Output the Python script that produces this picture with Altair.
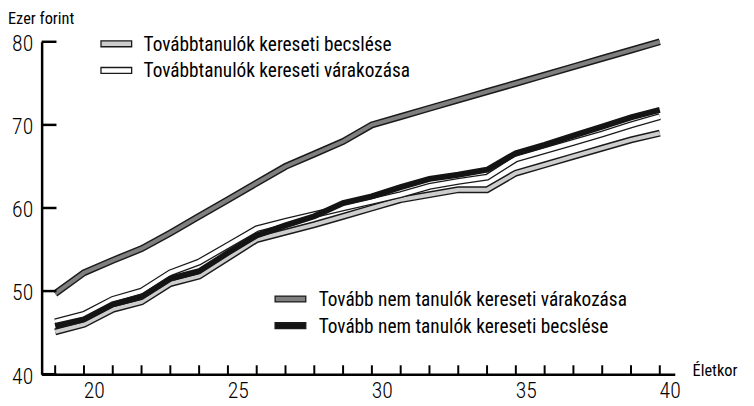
import altair as alt
import pandas as pd

# ---- data ----
ages = list(range(19, 41))
tov_becsles = [45.1, 46.0, 47.8, 48.7, 50.9, 51.8, 54.0, 56.2, 57.1, 58.0, 59.0, 60.0, 61.0, 61.6, 62.2, 62.2, 64.2, 65.2, 66.2, 67.2, 68.2, 69.0]
tov_varakozas = [46.3, 47.2, 49.0, 50.0, 52.2, 53.5, 55.5, 57.5, 58.4, 59.2, 60.0, 60.8, 61.6, 62.6, 63.2, 63.7, 65.9, 66.9, 67.9, 68.9, 70.0, 71.0]
nem_varakozas = [49.7, 52.2, 53.7, 55.1, 57.0, 59.0, 61.0, 63.0, 65.0, 66.5, 68.0, 70.0, 71.0, 72.0, 73.0, 74.0, 75.0, 76.0, 77.0, 78.0, 79.0, 80.0]
nem_becsles = [45.8, 46.6, 48.4, 49.3, 51.5, 52.4, 54.6, 56.7, 57.9, 59.0, 60.6, 61.4, 62.5, 63.5, 64.0, 64.6, 66.6, 67.6, 68.7, 69.8, 70.9, 71.8]

series_names = [
    "Továbbtanulók kereseti becslése",
    "Továbbtanulók kereseti várakozása",
    "Tovább nem tanulók kereseti várakozása",
    "Tovább nem tanulók kereseti becslése",
]
series_fill = ["#cdcdcd", "#ffffff", "#7f7f7f", "#141414"]

x_tick_labels = [20, 25, 30, 35, 40]
y_tick_labels = [40, 50, 60, 70, 80]

# ---- layout (pixels, relative to plot area) ----
legend_swatch_x = [60, 60, 236, 236]
legend_y = [2, 29, 260, 287]
legend_text_x = [103, 103, 280, 280]

FONT = "Liberation Sans Narrow, Roboto Condensed, DejaVu Sans Condensed, Arial Narrow, sans-serif"
W, H = 640, 336
OUTLINE = "#1a1a1a"

xscale = alt.Scale(domain=[18.53, 40.52], nice=False, zero=False)
yscale = alt.Scale(domain=[40, 80], nice=False, zero=False)

xaxis = alt.Axis(values=x_tick_labels, title=None, ticks=False, tickSize=0,
                 labelPadding=7, labelOffset=10, labelFlush=False, labelFontSize=22,
                 labelFont=FONT, labelFontWeight=300,
                 labelColor="black", domainColor="black", domainWidth=2.5, grid=False)
yaxis = alt.Axis(values=y_tick_labels, title=None, ticks=False, tickSize=0,
                 labelPadding=9, labelOffset=2, labelFlush=False, labelFontSize=22,
                 labelFont=FONT, labelFontWeight=300,
                 labelColor="black", domainColor="black", domainWidth=2.5, grid=False)

def series_df(vals):
    return pd.DataFrame({"age": ages, "v": vals})

def line_layer(vals, color, width):
    return alt.Chart(series_df(vals)).mark_line(
        color=color, strokeWidth=width, strokeCap="butt", strokeJoin="miter"
    ).encode(x=alt.X("age:Q", scale=xscale, axis=xaxis),
             y=alt.Y("v:Q", scale=yscale, axis=yaxis))

layers = []
# top grey line
layers.append(line_layer(nem_varakozas, OUTLINE, 7))
layers.append(line_layer(nem_varakozas, series_fill[2], 4))
# light grey line
layers.append(line_layer(tov_becsles, OUTLINE, 7))
layers.append(line_layer(tov_becsles, series_fill[0], 4))
# white line
layers.append(line_layer(tov_varakozas, OUTLINE, 7))
layers.append(line_layer(tov_varakozas, series_fill[1], 4.4))
# black line
layers.append(line_layer(nem_becsles, series_fill[3], 6))

# inward ticks
ytick_df = pd.DataFrame({"v": y_tick_labels})
layers.append(alt.Chart(ytick_df).mark_rule(color="black", strokeWidth=2.5).encode(
    y=alt.Y("v:Q", scale=yscale, axis=yaxis), x=alt.value(0), x2=alt.value(15)))
xtick_df = pd.DataFrame({"age": ages})
layers.append(alt.Chart(xtick_df).mark_rule(color="black", strokeWidth=2).encode(
    x=alt.X("age:Q", scale=xscale, axis=xaxis), y=alt.value(H), y2=alt.value(H - 9)))

# legend
leg = pd.DataFrame({
    "label": series_names,
    "fill": series_fill,
    "sx": legend_swatch_x,
    "sx2": [v + 31 for v in legend_swatch_x],
    "sy": [v - 3 for v in legend_y],
    "sy2": [v + 3 for v in legend_y],
    "ty": legend_y,
    "tx": legend_text_x,
})
layers.append(alt.Chart(leg).mark_rect(stroke=OUTLINE, strokeWidth=1.3).encode(
    x=alt.X("sx:Q", scale=None), x2="sx2:Q",
    y=alt.Y("sy:Q", scale=None), y2="sy2:Q",
    fill=alt.Fill("fill:N", scale=None)))
layers.append(alt.Chart(leg).mark_text(align="left", baseline="middle", fontSize=19.5,
                                       font=FONT, color="black", dy=1).encode(
    x=alt.X("tx:Q", scale=None), y=alt.Y("ty:Q", scale=None), text="label:N"))

# axis titles
titles = pd.DataFrame({"t": ["Ezer forint", "Életkor"], "px": [-34, 658], "py": [-23, 333]})
layers.append(alt.Chart(titles).mark_text(align="left", baseline="middle", fontSize=16.5,
                                          font=FONT, color="black").encode(
    x=alt.X("px:Q", scale=None), y=alt.Y("py:Q", scale=None), text="t:N"))

chart = alt.layer(*layers).properties(
    width=W, height=H,
    autosize=alt.AutoSizeParams(type="none"),
    padding={"left": 34, "top": 32, "right": 72, "bottom": 30},
    background="white",
).configure_view(stroke=None)

chart.save("out.html", embed_options={"renderer": "svg", "actions": False})
